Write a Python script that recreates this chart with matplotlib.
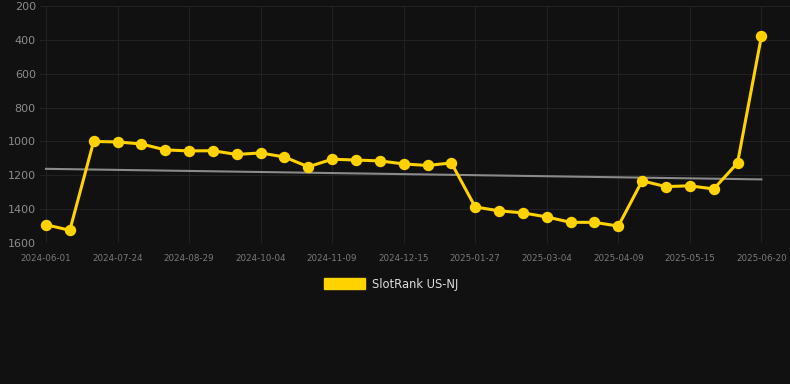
import numpy as np
import matplotlib.pyplot as plt

# rank per snapshot (lower = better), evenly spaced on the x axis
ranks = [1492, 1525, 1000, 1003, 1015, 1050, 1056, 1055, 1077, 1068,
         1092, 1150, 1105, 1110, 1115, 1133, 1142, 1127, 1387, 1410,
         1422, 1446, 1478, 1478, 1500, 1233, 1267, 1262, 1281, 1127,
         380]
tick_labels = ["2024-06-01", "2024-07-24", "2024-08-29", "2024-10-04",
               "2024-11-09", "2024-12-15", "2025-01-27", "2025-03-04",
               "2025-04-09", "2025-05-15", "2025-06-20"]
series_name = "SlotRank US-NJ"

bg = "#111111"
gold = "#ffd200"

x = np.arange(len(ranks))
tick_pos = x[::3]

fig = plt.figure(figsize=(7.9, 3.84), dpi=100, facecolor=bg)
ax = fig.add_axes([40 / 790, 141 / 384, 750 / 790, 237 / 384])
ax.set_facecolor(bg)

# trend line (least squares fit of the ranks)
k, b = np.polyfit(x, ranks, 1)
ax.plot(x, k * x + b, color="#8a8a8a", linewidth=1.5, zorder=2)

ax.plot(x, ranks, color=gold, linewidth=2.2, marker="o", markersize=7.2,
        markerfacecolor=gold, markeredgecolor=gold, zorder=3, label=series_name)

ax.set_ylim(1600, 200)
ax.set_yticks(range(200, 1601, 200))
ax.set_xlim(-0.25, 31.2)
ax.set_xticks(tick_pos)
ax.set_xticklabels(tick_labels)

ax.grid(True, color="#212121", linewidth=0.8)
ax.set_axisbelow(True)
for s in ax.spines.values():
    s.set_visible(False)
ax.tick_params(axis="y", length=0, pad=3, labelsize=8, labelcolor="#8c8c8c")
ax.tick_params(axis="x", length=0, pad=8, labelsize=6.3, labelcolor="#7a7a7a")

handle = plt.Rectangle((0, 0), 1, 1, color=gold)
fig.legend([handle], [series_name], loc="center", bbox_to_anchor=(0.495, 0.26),
           frameon=False, fontsize=8.3, labelcolor="#dddddd",
           handlelength=3.6, handleheight=1.1, handletextpad=0.6)

plt.savefig("out.png", dpi=100, facecolor=bg)
plt.close()
